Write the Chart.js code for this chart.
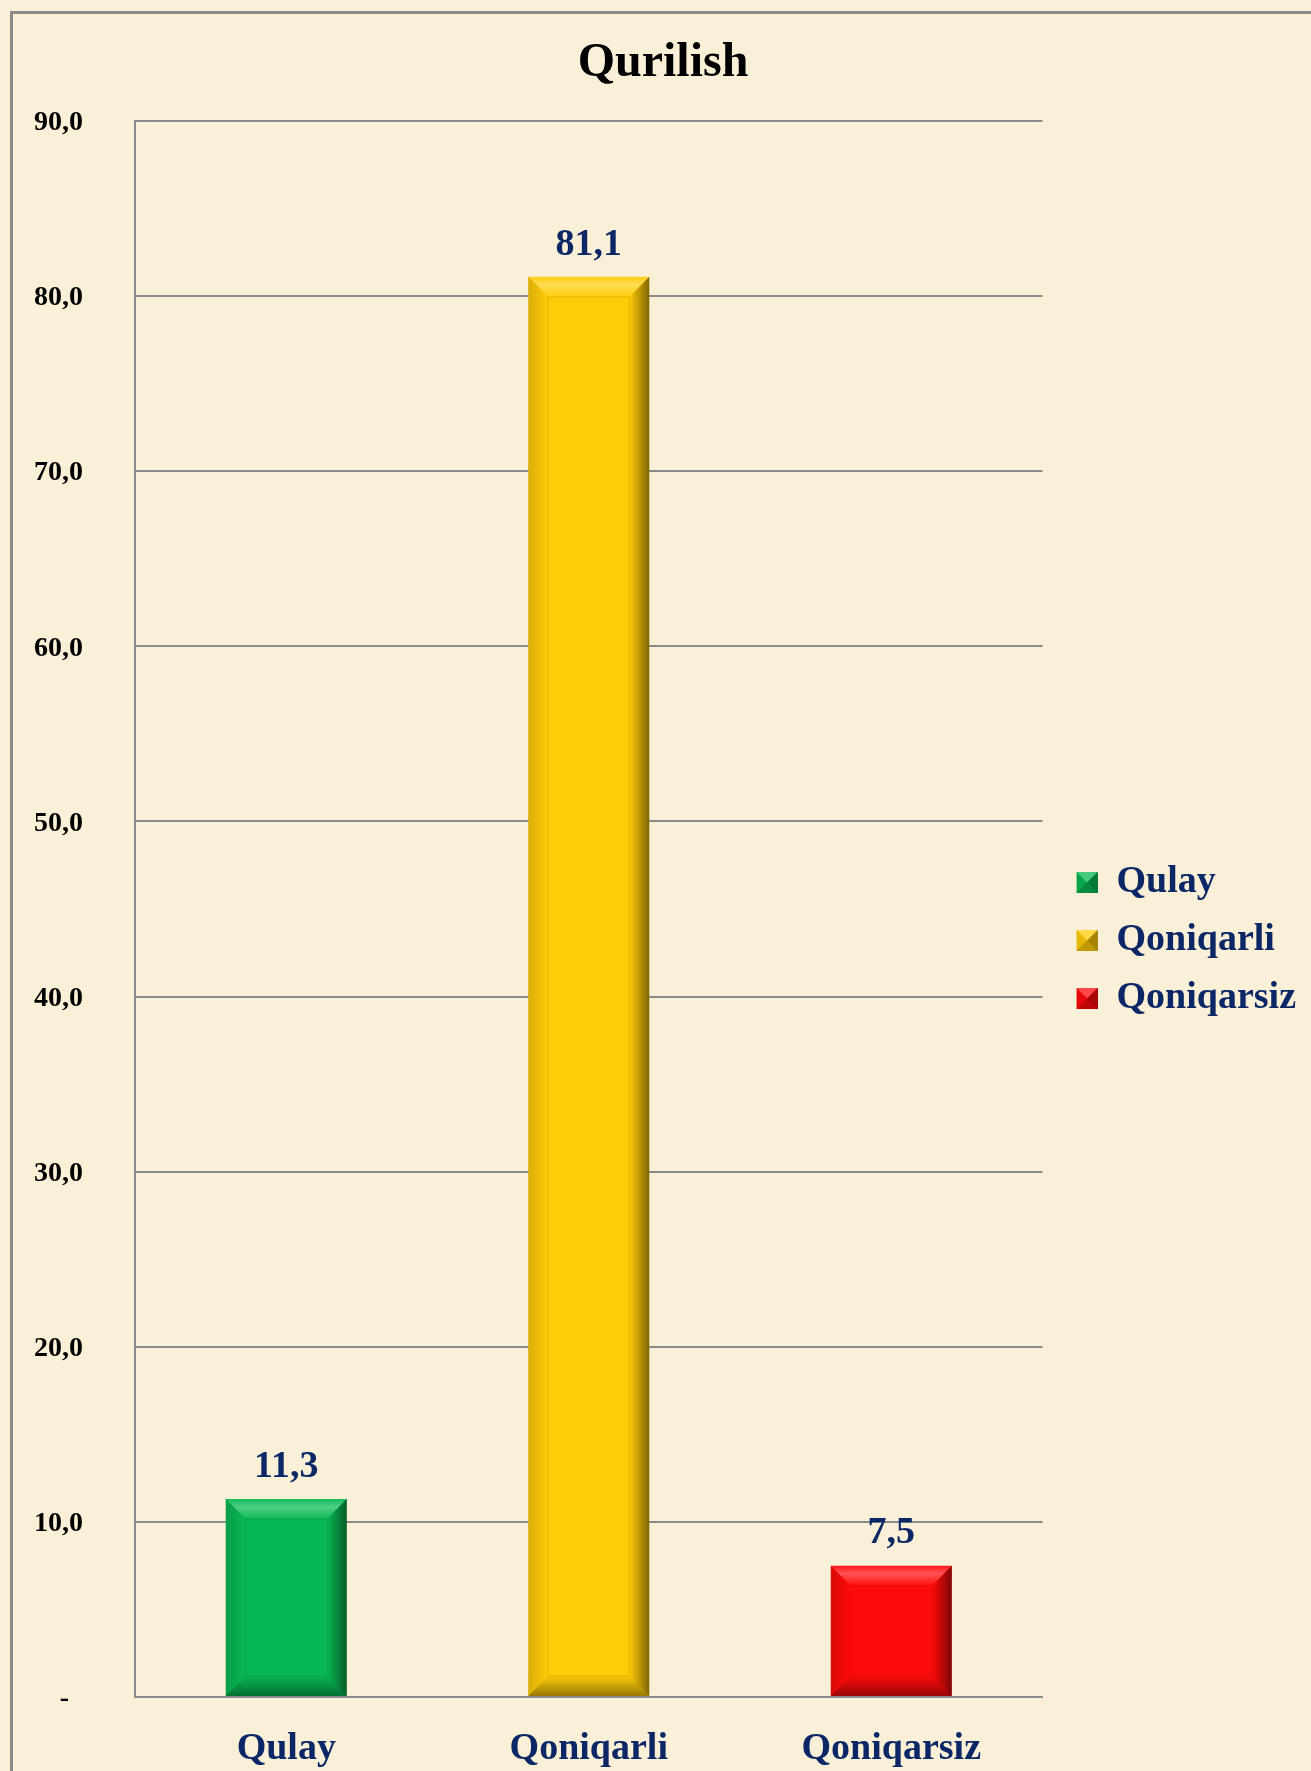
<!DOCTYPE html>
<html>
<head>
<meta charset="utf-8">
<script src="https://cdn.jsdelivr.net/npm/chart.js@4.4.0/dist/chart.umd.min.js"></script>
<style>
  html, body { margin: 0; padding: 0; background: #faefd7; }
  #wrap { position: relative; width: 1311px; height: 1771px; overflow: hidden; }
  #frame { position: absolute; left: 10px; top: 11px; right: -10px; bottom: -10px;
           border-top: 3px solid #8a8a8a; border-left: 3px solid #8a8a8a; }
  canvas { position: absolute; left: 0; top: 0; }
</style>
</head>
<body>
<div id="wrap">
  <div id="frame"></div>
  <canvas id="chart" width="1311" height="1771"></canvas>
</div>
<script>
const categories = ['Qulay', 'Qoniqarli', 'Qoniqarsiz'];
const values = [11.3, 81.1, 7.5];
const barColors = ['#08b854', '#ffcc08', '#ff0a0a'];
const yTicks = [0, 10, 20, 30, 40, 50, 60, 70, 80, 90];

const navy = '#0b2766';
const serif = '"Liberation Serif", "Times New Roman", serif';

// comma decimal like the source
const fmt = (v) => v.toFixed(1).replace('.', ',');

// small bevelled square for the legend, transparent on the left to push it right
function legendMarker(color) {
  const c = document.createElement('canvas');
  c.width = 35; c.height = 21;
  const g = c.getContext('2d');
  const l = 14, r = 35, t = 0, b = 21, cx = 24.5, cy = 10.5;
  const tri = (pts, fill) => {
    g.beginPath(); g.moveTo(pts[0], pts[1]);
    for (let i = 2; i < pts.length; i += 2) g.lineTo(pts[i], pts[i + 1]);
    g.closePath(); g.fillStyle = fill; g.fill();
  };
  g.fillStyle = color; g.fillRect(l, t, r - l, b - t);
  tri([l, t, r, t, cx, cy], 'rgba(255,255,255,0.25)');
  tri([r, t, r, b, cx, cy], 'rgba(0,0,0,0.35)');
  tri([l, b, r, b, cx, cy], 'rgba(0,0,0,0.25)');
  tri([l, t, l, b, cx, cy], 'rgba(0,0,0,0.1)');
  return c;
}

// value labels above the bars
const valueLabels = {
  id: 'valueLabels',
  afterDatasetsDraw(chart) {
    const ctx = chart.ctx;
    const meta = chart.getDatasetMeta(0);
    ctx.save();
    ctx.font = 'bold 38px ' + serif;
    ctx.fillStyle = navy;
    ctx.textAlign = 'center';
    ctx.textBaseline = 'middle';
    meta.data.forEach((bar, i) => {
      ctx.fillText(fmt(values[i]), bar.x, bar.y - 32);
    });
    ctx.restore();
  }
};

// bevel shading on top of each bar
const bevel = {
  id: 'bevel',
  afterDatasetsDraw(chart) {
    const ctx = chart.ctx;
    const meta = chart.getDatasetMeta(0);
    const s = 20;
    meta.data.forEach((bar) => {
      const p = bar.getProps(['x', 'y', 'base', 'width'], true);
      const l = p.x - p.width / 2, r = p.x + p.width / 2, t = p.y, b = p.base;
      const poly = (pts, fill) => {
        ctx.beginPath(); ctx.moveTo(pts[0], pts[1]);
        for (let i = 2; i < pts.length; i += 2) ctx.lineTo(pts[i], pts[i + 1]);
        ctx.closePath(); ctx.fillStyle = fill; ctx.fill();
      };
      ctx.save();
      let g = ctx.createLinearGradient(0, t, 0, t + s);
      g.addColorStop(0, 'rgba(255,255,255,0.05)');
      g.addColorStop(0.4, 'rgba(255,255,255,0.3)');
      g.addColorStop(1, 'rgba(255,255,255,0.02)');
      poly([l, t, r, t, r - s, t + s, l + s, t + s], g);
      g = ctx.createLinearGradient(r - s, 0, r, 0);
      g.addColorStop(0, 'rgba(0,0,0,0)');
      g.addColorStop(1, 'rgba(0,0,0,0.5)');
      poly([r, t, r, b, r - s, b - s, r - s, t + s], g);
      g = ctx.createLinearGradient(0, b - s, 0, b);
      g.addColorStop(0, 'rgba(0,0,0,0.02)');
      g.addColorStop(1, 'rgba(0,0,0,0.4)');
      poly([l, b, r, b, r - s, b - s, l + s, b - s], g);
      g = ctx.createLinearGradient(l, 0, l + s, 0);
      g.addColorStop(0, 'rgba(0,0,0,0.15)');
      g.addColorStop(1, 'rgba(0,0,0,0)');
      poly([l, t, l + s, t + s, l + s, b - s, l, b], g);
      ctx.strokeStyle = 'rgba(0,0,0,0.08)';
      ctx.lineWidth = 1.5;
      ctx.strokeRect(l + s, t + s, r - l - 2 * s, b - t - 2 * s);
      ctx.restore();
    });
  }
};

const ctx = document.getElementById('chart').getContext('2d');
new Chart(ctx, {
  type: 'bar',
  data: {
    labels: categories,
    datasets: [{
      data: values,
      backgroundColor: barColors,
      borderWidth: 0,
      categoryPercentage: 1,
      barPercentage: 0.4
    }]
  },
  options: {
    responsive: false,
    animation: false,
    layout: { padding: { left: 20, right: 5, top: 0, bottom: 0 } },
    plugins: {
      title: {
        display: true,
        text: 'Qurilish',
        color: '#000',
        font: { family: serif, size: 48, weight: 'bold', lineHeight: 1 },
        padding: { top: 40, bottom: 33 }
      },
      legend: {
        display: true,
        position: 'right',
        align: 'center',
        title: { display: true, text: '', font: { size: 10, lineHeight: 1 }, padding: { top: 50, bottom: 50 } },
        labels: {
          usePointStyle: true,
          pointStyleWidth: 35,
          boxHeight: 21,
          padding: 20,
          color: navy,
          font: { family: serif, size: 38, weight: 'bold' },
          generateLabels: () => categories.map((c, i) => ({
            text: c,
            pointStyle: legendMarker(barColors[i]),
            fillStyle: barColors[i],
            lineWidth: 0,
            fontColor: navy,
            index: i
          }))
        }
      },
      tooltip: { enabled: false }
    },
    scales: {
      x: {
        grid: { display: false },
        border: { display: true, color: '#8a8a8a', width: 2 },
        ticks: {
          color: navy,
          padding: 21,
          font: { family: serif, size: 38, weight: 'bold' }
        },
        afterFit: (scale) => { scale.height = 74; }
      },
      y: {
        min: 0,
        max: 90,
        afterBuildTicks: (scale) => { scale.ticks = yTicks.map(v => ({ value: v })); },
        grid: { color: '#8a8a8a', lineWidth: 2, drawTicks: false },
        border: { display: true, color: '#8a8a8a', width: 2 },
        ticks: {
          color: '#000',
          crossAlign: 'near',
          padding: 52,
          labelOffset: 2,
          font: { family: serif, size: 28, weight: 'bold' },
          callback: (v) => v === 0 ? '-  ' : fmt(v)
        },
        afterFit: (scale) => { scale.width = 115; }
      }
    }
  },
  plugins: [bevel, valueLabels]
});
</script>
</body>
</html>
